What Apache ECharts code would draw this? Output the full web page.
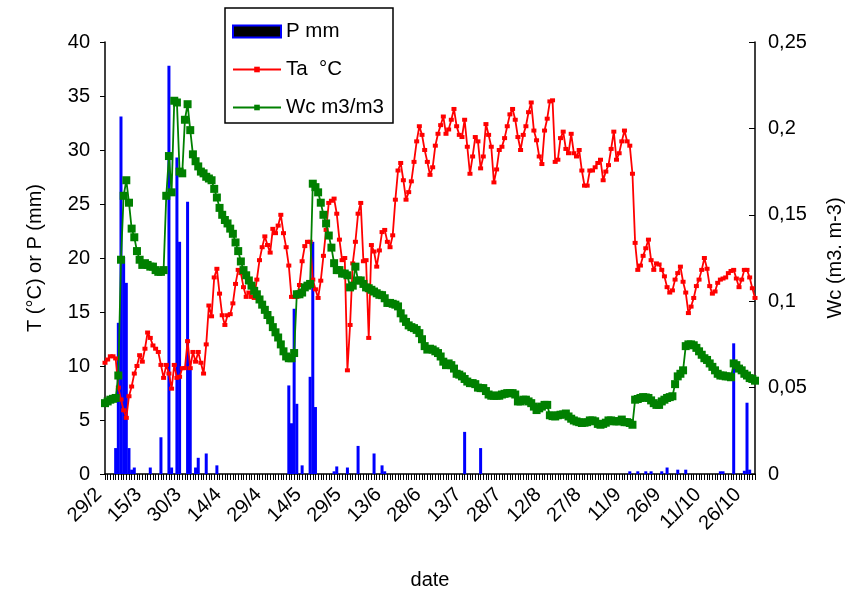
<!DOCTYPE html>
<html><head><meta charset="utf-8">
<script src="https://cdn.jsdelivr.net/npm/echarts@6/dist/echarts.min.js"></script>
<style>html,body{margin:0;padding:0;background:#fff}#c{width:850px;height:590px}</style>
</head><body><div id="c"></div>
<script>
// Daily categories from 29/2 (leap year) to 30/10
const startDate = [2008, 1, 29];
const dayCount = 245;
const tickEvery = 15;

// Air temperature Ta (°C)
const tempC = [
10.3,10.6,10.9,10.9,10.7,8.0,6.9,5.9,5.2,7.2,
8.1,9.3,10.0,11.0,10.4,11.6,13.1,12.6,11.9,11.6,
11.3,10.1,8.9,10.1,9.3,7.9,10.1,8.9,9.0,9.8,
9.8,12.3,9.8,11.3,10.4,11.3,10.3,9.3,12.0,15.6,
14.6,18.2,19.0,16.7,14.7,13.8,14.7,14.8,15.8,17.6,
18.9,18.6,17.3,16.4,16.8,16.4,16.3,18.0,19.8,21.0,
22.0,21.2,20.5,22.7,22.3,23.0,24.0,22.3,21.0,19.3,
16.4,16.4,16.4,17.5,19.7,21.1,21.5,21.5,18.0,17.1,
16.3,17.9,20.2,22.6,25.1,25.3,25.5,24.1,21.7,19.8,
20.0,9.6,13.8,19.5,21.5,24.1,25.1,19.7,19.8,12.6,
21.2,20.6,19.2,20.7,22.4,22.6,21.5,21.0,22.1,25.4,
28.1,28.8,27.2,25.4,26.1,27.1,28.9,30.8,32.2,31.4,
30.0,28.9,27.7,28.4,30.4,31.5,32.3,33.1,31.5,31.9,
32.8,33.8,32.2,31.4,31.2,32.8,30.3,27.8,29.4,31.2,
30.8,28.3,29.4,32.4,31.4,30.3,27.0,28.2,30.0,30.3,
31.1,32.2,33.3,33.8,32.8,31.2,30.0,31.4,32.2,33.5,
34.4,31.8,30.9,29.4,28.7,31.8,32.9,34.5,34.6,28.9,
29.1,31.1,31.7,30.1,29.7,31.5,29.7,29.4,30.0,28.1,
26.7,26.7,28.1,28.1,28.4,28.8,29.1,27.2,28.0,28.6,
30.1,31.7,29.1,29.7,30.8,31.8,30.8,30.4,27.8,21.4,
18.9,19.3,20.2,20.9,21.7,19.8,18.9,19.5,19.4,18.9,
18.3,17.3,16.8,17.0,18.0,18.6,19.2,17.8,16.8,14.9,
15.5,16.3,17.4,18.0,18.9,20.0,19.0,17.4,16.7,16.9,
17.7,18.0,18.1,18.2,18.6,18.8,18.9,18.1,17.3,18.0,
18.9,18.9,18.2,17.2,16.3
];

// Soil water content Wc (m3/m3)
const waterContent = [
0.041,0.042,0.043,0.0435,0.044,0.057,0.124,0.161,0.170,0.157,
0.142,0.137,0.129,0.124,0.121,0.122,0.121,0.120,0.120,0.118,
0.117,0.117,0.118,0.161,0.184,0.163,0.216,0.215,0.175,0.174,
0.205,0.214,0.199,0.185,0.181,0.178,0.175,0.174,0.172,0.171,
0.170,0.165,0.160,0.154,0.150,0.147,0.145,0.142,0.139,0.134,
0.129,0.123,0.118,0.115,0.112,0.109,0.106,0.104,0.101,0.098,
0.095,0.092,0.089,0.085,0.082,0.079,0.075,0.071,0.068,0.067,
0.067,0.070,0.104,0.104,0.105,0.108,0.109,0.110,0.168,0.166,
0.163,0.157,0.150,0.145,0.138,0.131,0.122,0.118,0.118,0.116,
0.116,0.115,0.108,0.109,0.120,0.112,0.112,0.110,0.108,0.1075,
0.1066,0.1056,0.1046,0.1037,0.1035,0.1017,0.099,0.099,0.0985,0.098,
0.097,0.093,0.090,0.088,0.086,0.085,0.0844,0.0834,0.0815,0.078,
0.074,0.072,0.0725,0.072,0.071,0.070,0.068,0.065,0.063,0.064,
0.063,0.061,0.058,0.0575,0.0565,0.055,0.0535,0.0526,0.0526,0.052,
0.050,0.0497,0.0497,0.048,0.046,0.0453,0.0453,0.0453,0.0453,0.046,
0.0464,0.0468,0.0468,0.0468,0.046,0.042,0.042,0.043,0.043,0.042,
0.041,0.039,0.037,0.038,0.039,0.040,0.040,0.034,0.0335,0.0333,
0.034,0.0343,0.0345,0.035,0.0333,0.032,0.031,0.0304,0.030,0.0295,
0.0297,0.030,0.031,0.031,0.0305,0.029,0.0285,0.029,0.0297,0.031,
0.031,0.0305,0.0305,0.0305,0.0315,0.030,0.030,0.0295,0.0285,0.043,
0.0434,0.044,0.0445,0.0443,0.044,0.0426,0.041,0.040,0.040,0.042,
0.043,0.044,0.0445,0.045,0.052,0.0565,0.058,0.060,0.074,0.075,
0.075,0.0745,0.073,0.071,0.069,0.067,0.066,0.064,0.062,0.060,
0.058,0.057,0.057,0.0565,0.0565,0.056,0.064,0.063,0.061,0.060,
0.058,0.057,0.0555,0.055,0.054
];

// Precipitation P (mm): [day index, mm] for rainy days, others 0
const rainDays = [
[4,2.4],[5,14.0],[6,33.1],[7,20.1],[8,17.7],[9,2.4],[10,0.4],[11,0.6],[17,0.6],[21,3.4],
[24,37.8],[25,0.6],[27,29.3],[28,21.5],[31,25.2],[32,9.8],[34,0.6],[35,1.5],[38,1.9],[42,0.8],
[69,8.2],[70,4.7],[71,15.3],[72,6.5],[74,0.8],[77,9.0],[78,21.5],[79,6.2],
[86,0.25],[87,0.7],[91,0.6],[95,2.6],[101,1.9],[104,0.8],[105,0.25],
[135,3.9],[141,2.4],
[197,0.25],[200,0.25],[203,0.25],[205,0.25],[209,0.25],[211,0.6],[215,0.4],[218,0.4],
[231,0.25],[232,0.25],[236,12.1],[240,0.3],[241,6.6],[242,0.4]
];

const leftTicks = {min: 0, max: 40, interval: 5};
const rightTicks = {min: 0, max: 0.25, interval: 0.05};

// ---- build ----
const categories = [];
const t0 = Date.UTC(startDate[0], startDate[1], startDate[2]);
for (let i = 0; i < dayCount; i++) {
  const d = new Date(t0 + i * 86400000);
  categories.push(d.getUTCDate() + '/' + (d.getUTCMonth() + 1));
}
const precip = new Array(dayCount).fill(0);
rainDays.forEach(([i, v]) => { precip[i] = v; });

const FONT = 'Liberation Sans, Arial, sans-serif';
const legendText = {fontFamily: FONT, fontSize: 20.5, color: '#000'};
const chart = echarts.init(document.getElementById('c'), null, {renderer: 'canvas'});
chart.setOption({
  animation: false,
  backgroundColor: '#fff',
  textStyle: {fontFamily: FONT, color: '#000'},
  grid: {left: 105, right: 95, top: 42, bottom: 116, containLabel: false, outerBoundsMode: 'none'},
  graphic: [{
    type: 'rect', z: 100,
    shape: {x: 225, y: 8, width: 168, height: 115},
    style: {fill: null, stroke: '#000', lineWidth: 1.5}
  }],
  legend: [
    {
      orient: 'vertical', left: 232, top: 21, padding: 0,
      itemWidth: 48, itemHeight: 12, itemGap: 10,
      textStyle: legendText,
      data: [{name: 'P mm', icon: 'rect', itemStyle: {color: '#000', borderColor: '#0000ff', borderWidth: 2}}]
    },
    {
      orient: 'vertical', left: 232, top: 59, padding: 0,
      itemWidth: 48, itemHeight: 7, itemGap: 17,
      textStyle: legendText,
      data: [{name: 'Ta  °C'}, {name: 'Wc m3/m3'}]
    }
  ],
  xAxis: {
    type: 'category', data: categories, boundaryGap: false,
    name: 'date', nameLocation: 'middle', nameGap: 96,
    nameTextStyle: {fontFamily: FONT, fontSize: 20, color: '#000'},
    axisLine: {lineStyle: {color: '#000', width: 1.5}},
    axisTick: {show: true, interval: 0, length: 6, lineStyle: {color: '#000', width: 1}},
    axisLabel: {
      interval: (idx) => idx % tickEvery === 0,
      rotate: 45, fontFamily: FONT, fontSize: 20, color: '#000', margin: 11,
      padding: [0, 9, 0, 0]
    },
    splitLine: {show: false}
  },
  yAxis: [
    {
      type: 'value', min: leftTicks.min, max: leftTicks.max, interval: leftTicks.interval,
      name: 'T (°C) or P (mm)', nameLocation: 'middle', nameGap: 60, nameRotate: 90,
      nameTextStyle: {fontFamily: FONT, fontSize: 20, color: '#000'},
      axisLine: {show: true, lineStyle: {color: '#000', width: 1.5}},
      axisTick: {show: true, length: 5, lineStyle: {color: '#000'}},
      axisLabel: {fontFamily: FONT, fontSize: 20, color: '#000', margin: 15},
      splitLine: {show: false}
    },
    {
      type: 'value', min: rightTicks.min, max: rightTicks.max, interval: rightTicks.interval,
      position: 'right',
      name: 'Wc (m3. m-3)', nameLocation: 'middle', nameGap: 70, nameRotate: 90,
      nameTextStyle: {fontFamily: FONT, fontSize: 20, color: '#000'},
      axisLine: {show: true, lineStyle: {color: '#000', width: 1.5}},
      axisTick: {show: true, inside: true, length: 6, lineStyle: {color: '#000'}},
      axisLabel: {fontFamily: FONT, fontSize: 20, color: '#000', margin: 13,
        formatter: (v) => String(+v.toFixed(2)).replace('.', ',')},
      splitLine: {show: false}
    }
  ],
  series: [
    {
      name: 'P mm', type: 'bar', yAxisIndex: 0, data: precip,
      barWidth: 3, itemStyle: {color: '#0000ff'}, z: 1
    },
    {
      name: 'Ta  °C', type: 'line', yAxisIndex: 0, data: tempC,
      symbol: 'rect', symbolSize: [5, 4], showAllSymbol: true,
      lineStyle: {color: '#ff0000', width: 1.8}, itemStyle: {color: '#ff0000'}, z: 2
    },
    {
      name: 'Wc m3/m3', type: 'line', yAxisIndex: 1, data: waterContent,
      symbol: 'rect', symbolSize: 8, showAllSymbol: true,
      lineStyle: {color: '#008000', width: 1.8}, itemStyle: {color: '#008000'}, z: 3
    }
  ]
});
</script>
</body></html>
